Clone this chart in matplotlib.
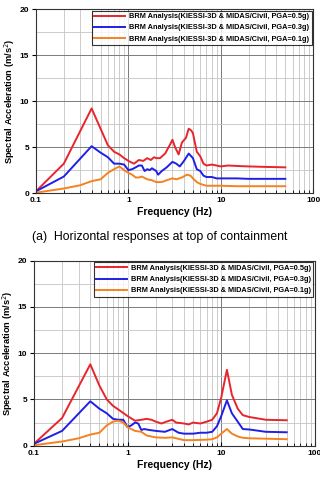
import numpy as np
import matplotlib
matplotlib.use("Agg")
import matplotlib.pyplot as plt
from matplotlib.ticker import LogLocator, MultipleLocator, FixedLocator

plt.rcParams['font.family'] = ['Liberation Sans', 'DejaVu Sans']

# datos (a) respuesta horizontal
f_a_red = [0.1, 0.2, 0.4, 0.5, 0.6, 0.7, 0.8, 0.9, 1.0, 1.15, 1.3, 1.45, 1.6, 1.75, 1.9, 2.0, 2.2, 2.5,
           2.8, 3.0, 3.2, 3.5, 3.8, 4.2, 4.5, 4.8, 5.0, 5.5, 6.0, 6.5, 7.0, 8.0, 9.0, 10, 12, 15, 20, 30, 50]
a_red = [0.2, 3.2, 9.2, 7.0, 5.2, 4.5, 4.2, 3.8, 3.5, 3.2, 3.6, 3.5, 3.8, 3.6, 3.9, 3.8, 3.8, 4.3,
         5.2, 5.8, 5.0, 4.2, 5.5, 6.0, 7.0, 6.8, 6.5, 4.5, 4.0, 3.2, 3.0, 3.1, 3.0, 2.9, 3.0, 2.95, 2.9, 2.85, 2.8]

f_a_blue = [0.1, 0.2, 0.4, 0.5, 0.6, 0.7, 0.8, 0.9, 1.0, 1.1, 1.2, 1.3, 1.4, 1.5, 1.6, 1.7, 1.8, 2.0,
            2.1, 2.3, 2.6, 3.0, 3.3, 3.6, 4.0, 4.5, 5.0, 5.5, 6.0, 6.5, 7.0, 8.0, 9.0, 10, 15, 20, 50]
a_blue = [0.2, 1.8, 5.1, 4.4, 3.9, 3.2, 3.2, 3.1, 2.5, 2.6, 2.8, 3.0, 3.0, 2.4, 2.6, 2.5, 2.7, 2.4,
          2.0, 2.4, 2.8, 3.4, 3.2, 2.9, 3.5, 4.3, 3.8, 2.6, 2.4, 1.9, 1.75, 1.75, 1.6, 1.6, 1.6, 1.55, 1.55]

f_a_orange = [0.1, 0.2, 0.3, 0.4, 0.5, 0.6, 0.7, 0.8, 0.9, 1.0, 1.1, 1.2, 1.3, 1.4, 1.6, 1.8, 2.0, 2.3,
              2.6, 3.0, 3.3, 3.8, 4.3, 4.7, 5.0, 5.5, 6.0, 7.0, 10, 15, 50]
a_orange = [0.05, 0.5, 0.85, 1.3, 1.5, 2.2, 2.6, 2.9, 2.5, 2.2, 2.0, 1.7, 1.7, 1.8, 1.5, 1.4, 1.2, 1.2,
            1.4, 1.6, 1.5, 1.7, 2.0, 1.9, 1.6, 1.2, 1.0, 0.8, 0.8, 0.75, 0.75]

# datos de la segunda figura
f_b_red = [0.1, 0.2, 0.4, 0.5, 0.6, 0.7, 0.8, 1.0, 1.2, 1.4, 1.6, 1.8, 2.0, 2.3, 2.6, 3.0, 3.3, 4.0,
           4.5, 5.0, 6.0, 7.0, 8.0, 9.0, 10, 11.5, 13, 15, 17, 20, 30, 50]
b_red = [0.2, 3.0, 8.8, 6.5, 5.0, 4.3, 3.9, 3.2, 2.7, 2.8, 2.9, 2.8, 2.6, 2.4, 2.6, 2.8, 2.5, 2.4,
         2.3, 2.5, 2.4, 2.6, 2.8, 3.5, 5.2, 8.2, 5.5, 4.0, 3.3, 3.1, 2.8, 2.75]

f_b_blue = [0.1, 0.2, 0.4, 0.5, 0.6, 0.7, 0.8, 0.9, 1.0, 1.1, 1.2, 1.3, 1.4, 1.5, 1.7, 2.0, 2.5, 3.0,
            3.5, 4.0, 5.0, 6.0, 7.0, 8.0, 9.0, 10, 11.5, 13, 15, 17, 20, 30, 50]
b_blue = [0.2, 1.6, 4.8, 4.0, 3.5, 2.9, 2.8, 2.8, 2.0, 2.2, 2.5, 2.4, 1.7, 1.8, 1.7, 1.6, 1.5, 1.8,
          1.4, 1.3, 1.3, 1.4, 1.4, 1.5, 2.1, 3.2, 4.9, 3.5, 2.6, 1.8, 1.75, 1.5, 1.45]

f_b_orange = [0.1, 0.2, 0.3, 0.4, 0.5, 0.6, 0.7, 0.8, 0.9, 1.0, 1.2, 1.4, 1.6, 2.0, 2.5, 3.0, 4.0, 5.0,
              7.0, 8.0, 9.0, 10, 11.5, 13, 15, 17, 20, 50]
b_orange = [0.05, 0.45, 0.8, 1.2, 1.4, 2.2, 2.6, 2.7, 2.5, 2.0, 1.6, 1.5, 1.1, 0.9, 0.85, 0.9, 0.6, 0.6,
            0.65, 0.7, 0.9, 1.3, 1.8, 1.3, 1.0, 0.85, 0.8, 0.7]

etiquetas = ['BRM Analysis(KIESSI-3D & MIDAS/Civil, PGA=0.5g)',
             'BRM Analysis(KIESSI-3D & MIDAS/Civil, PGA=0.3g)',
             'BRM Analysis(KIESSI-3D & MIDAS/Civil, PGA=0.1g)']
colores = ['#e8252b', '#1f1fe6', '#f5821f']
xticks = [0.1, 1, 10, 100]
xlabels = ['0.1', '1', '10', '100']

fig = plt.figure(figsize=(3.2, 4.78), dpi=100)
ax1 = fig.add_axes([0.1125, 0.596, 0.866, 0.385])
ax2 = fig.add_axes([0.106, 0.0676, 0.878, 0.387])


def dibujar(ax, series):
    for (f, v), c, lab in zip(series, colores, etiquetas):
        ax.plot(f, v, color=c, lw=1.4, label=lab)
    ax.set_xscale('log')
    ax.set_xlim(0.1, 100)
    ax.set_ylim(0, 20)
    ax.xaxis.set_major_locator(FixedLocator(xticks))
    ax.set_xticklabels(xlabels)
    ax.xaxis.set_minor_locator(LogLocator(base=10, subs=np.arange(2, 10)))
    ax.xaxis.set_minor_formatter(plt.NullFormatter())
    ax.yaxis.set_major_locator(MultipleLocator(5))
    ax.yaxis.set_minor_locator(MultipleLocator(2.5))
    ax.grid(which='major', color='#7a7a7a', lw=0.7)
    ax.grid(which='minor', color='#c4c4c4', lw=0.6)
    ax.tick_params(axis='x', which='both', direction='in', labelsize=6, pad=3)
    ax.tick_params(axis='x', which='major', length=3)
    ax.tick_params(axis='x', which='minor', length=2.5)
    ax.tick_params(axis='y', which='major', direction='out', length=3, labelsize=6, pad=2)
    ax.tick_params(axis='y', which='minor', length=0)
    for lbl in ax.get_xticklabels() + ax.get_yticklabels():
        lbl.set_fontweight('bold')
    for s in ax.spines.values():
        s.set_color('#333333')
        s.set_linewidth(0.8)
    ax.set_xlabel('Frequency (Hz)', fontsize=7.5, fontweight='bold', labelpad=2)
    ax.set_ylabel('Spectral Acceleration (m/s$^2$)', fontsize=6.7, fontweight='bold', labelpad=1.5)
    leg = ax.legend(loc='upper right', prop={'weight': 'bold', 'size': 5.3},
                    frameon=True, fancybox=False, edgecolor='black', handlelength=4.2,
                    handletextpad=0.5, borderaxespad=0.2, labelspacing=0.55, borderpad=0.35)
    leg.get_frame().set_linewidth(0.8)


dibujar(ax1, [(f_a_red, a_red), (f_a_blue, a_blue), (f_a_orange, a_orange)])
dibujar(ax2, [(f_b_red, b_red), (f_b_blue, b_blue), (f_b_orange, b_orange)])

fig.text(0.5, 1 - 237 / 478, '(a)  Horizontal responses at top of containment',
         ha='center', va='center', fontsize=8.8)

fig.savefig('out.png', dpi=100)
